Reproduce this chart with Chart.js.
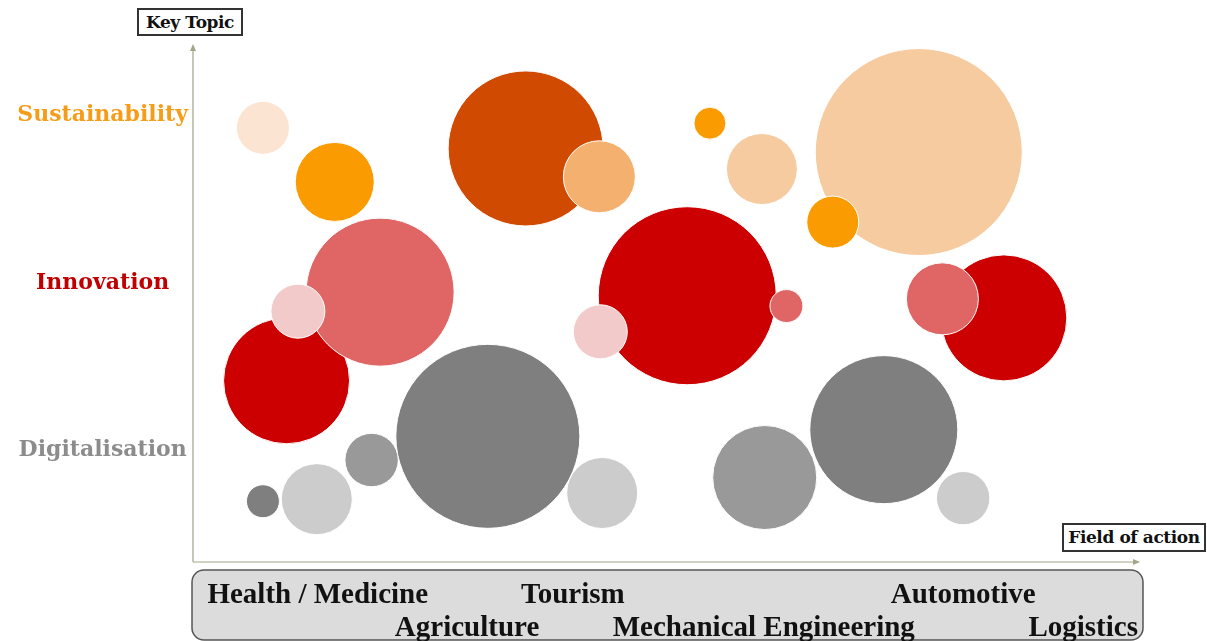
<!DOCTYPE html>
<html>
<head>
<meta charset="utf-8">
<script src="https://cdn.jsdelivr.net/npm/chart.js@4.4.1/dist/chart.umd.min.js"></script>
<style>
  html, body { margin: 0; padding: 0; background: #ffffff; }
  #wrap { position: relative; width: 1207px; height: 641px; overflow: hidden; }
  .axis-tag {
    position: absolute;
    font-family: 'DejaVu Serif', serif;
    font-weight: bold;
    font-size: 17px;
    color: #111;
    border: 2px solid #333;
    background: #fff;
    box-sizing: border-box;
    text-align: center;
    line-height: 24px;
    letter-spacing: -0.4px;
  }
</style>
</head>
<body>
<div id="wrap">
  <canvas id="bubbleChart" width="1207" height="641"></canvas>
  <div class="axis-tag" style="left:137px; top:8px; width:106px; height:28px;">Key Topic</div>
  <div class="axis-tag" style="left:1062px; top:523px; width:144px; height:29px;">Field of action</div>
</div>
<script>
// key topics on the vertical axis (bottom to top)
const topics = ['Digitalisation', 'Innovation', 'Sustainability'];
const topicTicks = [21.6, 54.2, 86.8];
const topicColors = ['#8c8c8c', '#c00000', '#f59c18'];

// fields of action on the horizontal axis
const fields = ['Health / Medicine', 'Agriculture', 'Tourism', 'Mechanical Engineering', 'Automotive', 'Logistics'];
const fieldTicks = [13.2, 29.0, 40.2, 60.4, 81.5, 94.2];

// bubbles per key topic: x, y, radius
const sustainX = [7.4, 15.0, 35.2, 43.0, 54.7, 60.2, 76.8, 67.7];
const sustainY = [84.3, 73.8, 80.3, 74.8, 85.2, 76.3, 79.6, 66.0];
const sustainR = [26.5, 39.5, 77.5, 36, 16, 35.5, 103.5, 26];
const sustainColors = ['#fbe5d2', '#fa9b02', '#d04a02', '#f4b06e', '#fa9b02', '#f6cb9f', '#f6cb9f', '#fa9b02'];

const innovX = [9.9, 19.8, 11.1, 52.3, 43.1, 62.8, 85.8, 79.3];
const innovY = [35.2, 52.4, 48.7, 51.7, 44.7, 49.7, 47.4, 51.1];
const innovR = [63, 74, 27, 89, 27, 16.5, 63, 36];
const innovColors = ['#cc0000', '#e06666', '#f2caca', '#cc0000', '#f2caca', '#e06666', '#cc0000', '#e06666'];

const digitX = [7.4, 13.1, 18.9, 31.2, 43.3, 60.5, 73.1, 81.5];
const digitY = [11.8, 12.2, 19.8, 24.4, 13.4, 16.4, 25.7, 12.4];
const digitR = [16.5, 35.5, 26.7, 92, 35.5, 52, 74, 26.7];
const digitColors = ['#7f7f7f', '#cccccc', '#999999', '#7f7f7f', '#cccccc', '#999999', '#7f7f7f', '#cccccc'];

const toPoints = (xs, ys, rs) => xs.map((x, i) => ({ x: x, y: ys[i], r: rs[i] }));

const axisColor = '#a3a38a';

const frame = {
  id: 'frame',
  beforeDraw(chart) {
    const { ctx, chartArea } = chart;
    // grey rounded box behind the field labels
    const bx = chartArea.left - 1;
    const by = chartArea.bottom + 8;
    const bw = chartArea.right + 5 - bx;
    const bh = chart.height - 1 - by;
    ctx.save();
    ctx.beginPath();
    ctx.roundRect(bx, by, bw, bh, 12);
    ctx.fillStyle = '#dcdcdc';
    ctx.fill();
    ctx.lineWidth = 1.5;
    ctx.strokeStyle = '#555555';
    ctx.stroke();
    ctx.restore();
  },
  afterDraw(chart) {
    const { ctx, chartArea } = chart;
    const x0 = chartArea.left;
    const y0 = chartArea.bottom;
    ctx.save();
    ctx.strokeStyle = axisColor;
    ctx.fillStyle = axisColor;
    ctx.lineWidth = 1.2;
    ctx.beginPath();
    ctx.moveTo(x0, y0);
    ctx.lineTo(x0, chartArea.top + 2);
    ctx.moveTo(x0, y0);
    ctx.lineTo(chartArea.right - 3, y0);
    ctx.stroke();
    // arrow heads
    ctx.beginPath();
    ctx.moveTo(x0, chartArea.top - 3);
    ctx.lineTo(x0 - 3, chartArea.top + 4);
    ctx.lineTo(x0 + 3, chartArea.top + 4);
    ctx.closePath();
    ctx.fill();
    ctx.beginPath();
    ctx.moveTo(chartArea.right + 2, y0);
    ctx.lineTo(chartArea.right - 5, y0 - 3);
    ctx.lineTo(chartArea.right - 5, y0 + 3);
    ctx.closePath();
    ctx.fill();
    ctx.restore();
  }
};

new Chart(document.getElementById('bubbleChart'), {
  type: 'bubble',
  data: {
    datasets: [
      {
        label: 'Digitalisation',
        data: toPoints(digitX, digitY, digitR),
        backgroundColor: digitColors,
        borderColor: '#ffffff',
        borderWidth: 1
      },
      {
        label: 'Innovation',
        data: toPoints(innovX, innovY, innovR),
        backgroundColor: innovColors,
        borderColor: '#ffffff',
        borderWidth: 1
      },
      {
        label: 'Sustainability',
        data: toPoints(sustainX, sustainY, sustainR),
        backgroundColor: sustainColors,
        borderColor: '#ffffff',
        borderWidth: 1
      }
    ]
  },
  options: {
    responsive: false,
    animation: false,
    devicePixelRatio: 1,
    layout: {
      autoPadding: false,
      padding: { top: 47, right: 69, left: 0, bottom: 0 }
    },
    plugins: {
      legend: { display: false },
      tooltip: { enabled: false }
    },
    scales: {
      x: {
        type: 'linear',
        min: 0,
        max: 100,
        afterFit: (scale) => { scale.height = 79; },
        afterBuildTicks: (scale) => { scale.ticks = fieldTicks.map(v => ({ value: v })); },
        ticks: {
          autoSkip: false,
          maxRotation: 0,
          minRotation: 0,
          padding: 17,
          color: '#111111',
          font: { family: "'Liberation Serif', serif", size: 29, weight: 'bold', lineHeight: 1.14 },
          callback: (value, index) => index % 2 === 0 ? [fields[index], ''] : ['', fields[index]]
        },
        grid: { display: false, drawTicks: false },
        border: { display: false }
      },
      y: {
        type: 'linear',
        min: 0,
        max: 100,
        afterFit: (scale) => { scale.width = 193; },
        afterBuildTicks: (scale) => { scale.ticks = topicTicks.map(v => ({ value: v })); },
        ticks: {
          autoSkip: false,
          crossAlign: 'center',
          padding: 5,
          color: (ctx) => topicColors[ctx.index],
          font: { family: "'DejaVu Serif', serif", size: 22, weight: 'bold' },
          callback: (value, index) => topics[index]
        },
        grid: { display: false, drawTicks: false },
        border: { display: false }
      }
    }
  },
  plugins: [frame]
});
</script>
</body>
</html>
